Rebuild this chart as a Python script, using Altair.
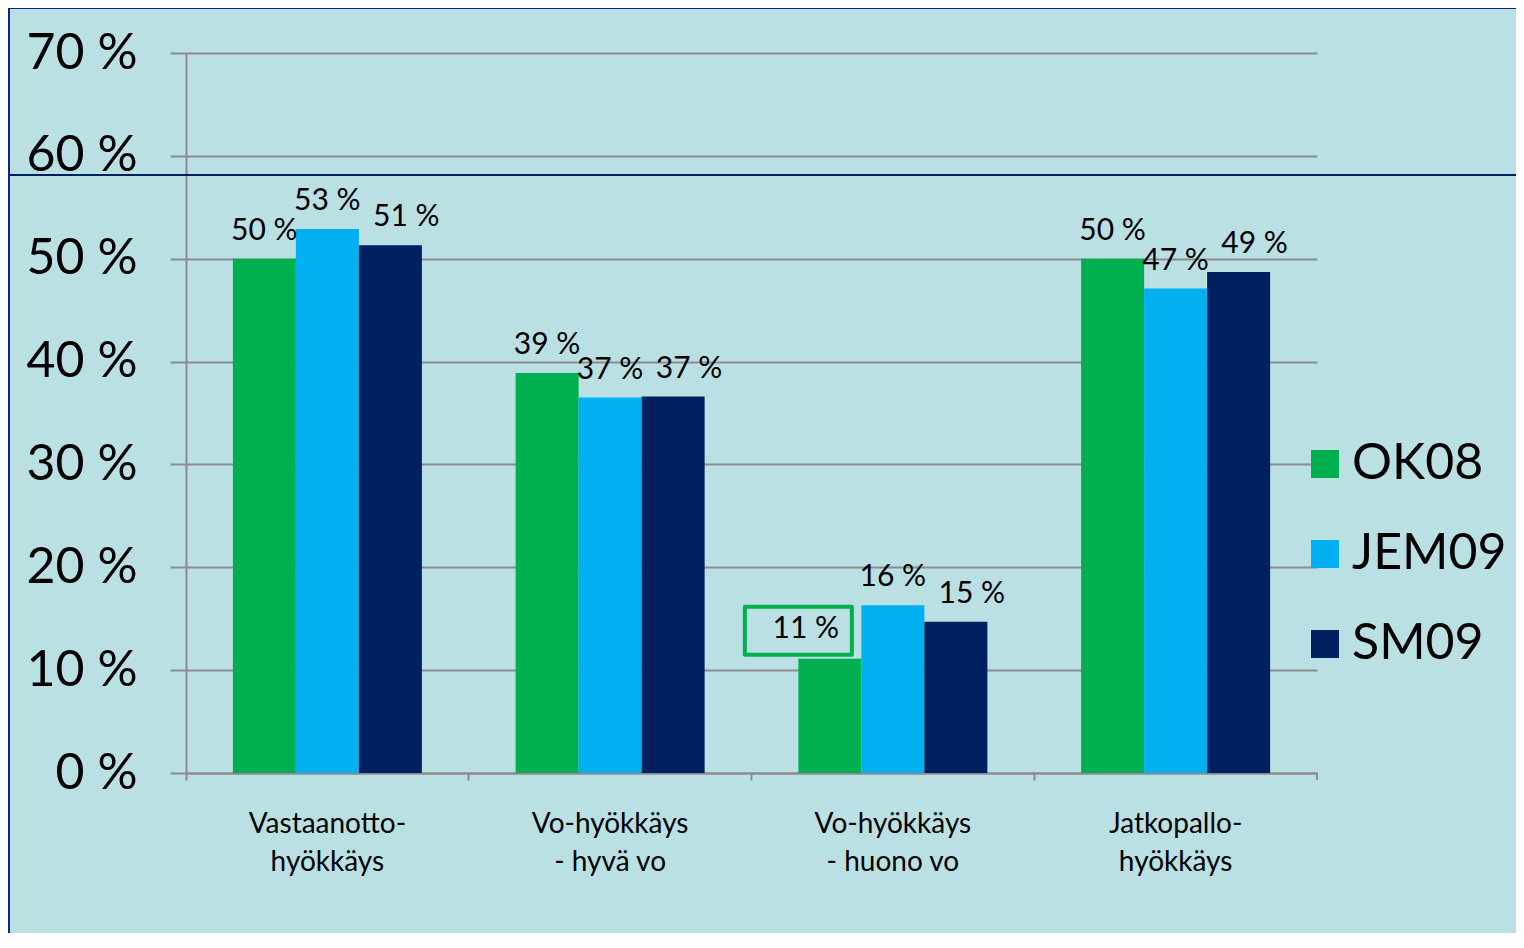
import altair as alt
import pandas as pd

categories = ["Vastaanotto-|hyökkäys", "Vo-hyökkäys|- hyvä vo",
              "Vo-hyökkäys|- huono vo", "Jatkopallo-|hyökkäys"]
series = ["OK08", "JEM09", "SM09"]
colors = ["#00b050", "#00b0f0", "#002060"]
ok08 = [50.0, 38.9, 11.1, 50.0]
jem09 = [52.9, 36.5, 16.3, 47.1]
sm09 = [51.3, 36.6, 14.7, 48.7]
ok08_lbl = ["50 %", "39 %", "11 %", "50 %"]
jem09_lbl = ["53 %", "37 %", "16 %", "47 %"]
sm09_lbl = ["51 %", "37 %", "15 %", "49 %"]
y_ticks = [0, 10, 20, 30, 40, 50, 60, 70]

rows = []
for s, vals, lbls in zip(series, [ok08, jem09, sm09], [ok08_lbl, jem09_lbl, sm09_lbl]):
    for c, v, l in zip(categories, vals, lbls):
        rows.append({"cat": c, "series": s, "value": v, "label": l})
df = pd.DataFrame(rows)

FONT = "Lato"
W, H = 1131, 720
GRID = "#8c8c8c"

x_enc = alt.X("cat:N", sort=categories, title=None,
              scale=alt.Scale(paddingInner=0, paddingOuter=0),
              axis=alt.Axis(labelExpr="split(datum.label, '|')", labelAngle=0,
                            labelFont=FONT, labelFontSize=28, labelColor="black",
                            labelLineHeight=38, labelPadding=30,
                            bandPosition=0, tickSize=7, tickColor=GRID, tickWidth=2,
                            domainColor=GRID, domainWidth=2, grid=False))
xo_enc = alt.XOffset("series:N", sort=series,
                     scale=alt.Scale(paddingInner=0, paddingOuter=0.744))
y_enc = alt.Y("value:Q", title=None,
              scale=alt.Scale(domain=[0, 70], nice=False),
              axis=alt.Axis(values=y_ticks, labelExpr="datum.value + ' %'",
                            labelFont=FONT, labelFontSize=50, labelColor="black",
                            labelPadding=33, tickSize=16, tickColor=GRID, tickWidth=2,
                            domainColor=GRID, domainWidth=2,
                            grid=True, gridColor=GRID, gridWidth=2))

base = alt.Chart(df)

bars = base.mark_bar(opacity=1).encode(
    x=x_enc, xOffset=xo_enc, y=y_enc,
    color=alt.Color("series:N", sort=series,
                    scale=alt.Scale(domain=series, range=colors),
                    legend=alt.Legend(title=None, orient="none", legendX=1114, legendY=386,
                                      symbolType="square", symbolSize=784,
                                      symbolStrokeWidth=0, symbolOpacity=1,
                                      labelFont=FONT, labelFontSize=50, labelColor="black",
                                      labelOffset=2, labelLimit=0, rowPadding=40)),
)

special = "datum.series == 'OK08' && datum.cat == 'Vo-hyökkäys|- huono vo'"

labels_main = base.transform_filter(
    f"!({special}) && datum.series != 'SM09'"
).mark_text(font=FONT, fontSize=30, color="black", baseline="alphabetic", dy=-19).encode(
    x=x_enc, xOffset=xo_enc, y=y_enc, text="label:N")

labels_sm = base.transform_filter("datum.series == 'SM09'").mark_text(
    font=FONT, fontSize=30, color="black", baseline="alphabetic", dy=-19, dx=16
).encode(x=x_enc, xOffset=xo_enc, y=y_enc, text="label:N")

label_special = base.transform_filter(special).mark_text(
    font=FONT, fontSize=30, color="black", baseline="middle", dx=-24, dy=-30
).encode(x=x_enc, xOffset=xo_enc, y=y_enc, text="label:N")

box_special = base.transform_filter(special).mark_point(
    shape="M-1.589,-0.972L0.411,-0.972L0.411,-0.075L-1.589,-0.075Z",
    size=11449, filled=False, stroke="#00b050", strokeWidth=4,
    strokeJoin="round", opacity=1
).encode(x=x_enc, xOffset=xo_enc, y=y_enc)

# slide decorations
hline = alt.Chart(df).mark_rule(color="#002060", strokeWidth=1.5).encode(
    x=alt.value(-176), x2=alt.value(1340), y=alt.value(122))
top_border = alt.Chart(df).mark_rule(color="#012b84", strokeWidth=2).encode(
    x=alt.value(-180), x2=alt.value(1340), y=alt.value(-45))
left_border = alt.Chart(df).mark_rule(color="#012b84", strokeWidth=4).encode(
    x=alt.value(-178), y=alt.value(-50), y2=alt.value(900))
end_tick = alt.Chart(df).mark_rule(color=GRID, strokeWidth=2).encode(
    x=alt.value(W), y=alt.value(H), y2=alt.value(H + 7))

chart = alt.layer(
    bars, labels_main, labels_sm, label_special, box_special,
    hline, top_border, left_border, end_tick
).properties(
    width=W, height=H,
    autosize=alt.AutoSizeParams(type="none"),
    padding={"left": 178, "top": 45, "right": 199, "bottom": 160},
    background="#bae0e3",
).configure_view(stroke=None)

chart.save("out.html", embed_options={"renderer": "svg", "actions": False})
